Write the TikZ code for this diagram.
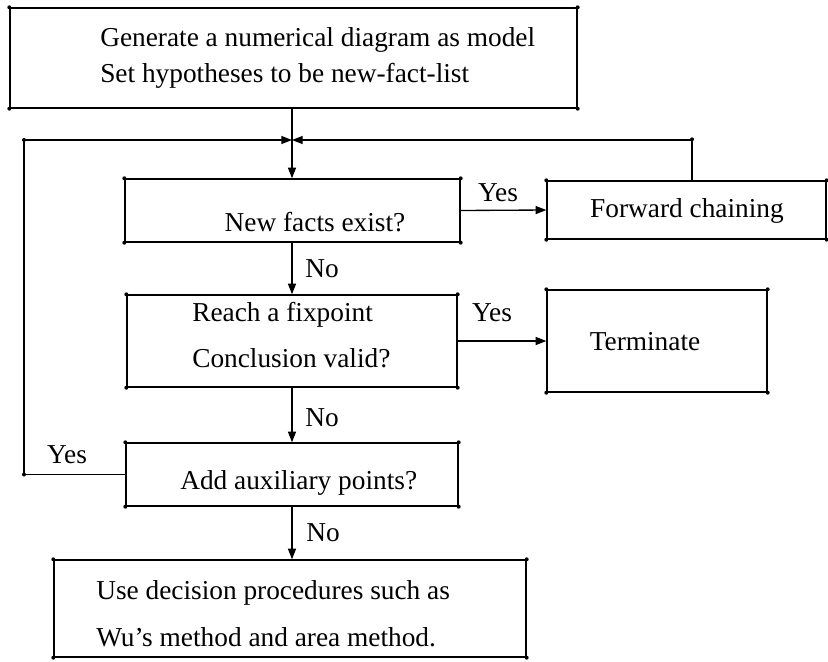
\documentclass[tikz,border=0pt]{standalone}
\usepackage{fontspec}
\setmainfont{Liberation Serif}
\usetikzlibrary{arrows.meta}
\usetikzlibrary{fit}

\tikzset{
  box/.style={draw,line width=1pt,inner sep=0pt},
  txt/.style={inner sep=0pt,font=\fontsize{20.5}{24}\selectfont},
  flow/.style={line width=1pt,-{Triangle[length=8pt,width=6pt]}},
  link/.style={line width=1pt},
}

\begin{document}
\begin{tikzpicture}[x=0.75pt,y=0.75pt,yscale=-1,xscale=1]
\useasboundingbox (0,0) rectangle (828,661);

%Shape: Rectangles
\node[box,fit={(10,8) (577,108)}] (gen) {};
\node[box,fit={(125,179) (460,242)}] (newf) {};
\node[box,fit={(547,181) (826,239)}] (fwd) {};
\node[box,fit={(127,295) (457,387)}] (fix) {};
\node[box,fit={(547,290) (767,392)}] (term) {};
\node[box,fit={(126,443) (458,506)}] (aux) {};
\node[box,fit={(54,560) (526,657)}] (wu) {};

%corner dots
\foreach \n in {gen,newf,fwd,fix,term,aux,wu}
  \foreach \a in {north west,north east,south west,south east}
    \fill (\n.\a) circle (2);

%loop points
\coordinate (join) at (292,140);
\coordinate (loopl) at (24,0);
\coordinate (loopr) at (692,0);

%Straight Lines
\draw[link] (gen.south -| join) -- (join);
\draw[flow] (join) -- (join |- newf.north);
\draw[flow] (newf.east) -- (fwd.west);
\draw[flow] (fwd.north -| loopr) |- (join);
\draw[flow] (newf.south -| join) -- (fix.north -| join);
\draw[flow] (fix.east) -- (fix.east -| term.west);
\draw[flow] (fix.south -| join) -- (aux.north -| join);
\draw[flow] (aux.west) -- (aux.west -| loopl) |- (join);
\draw[flow] (aux.south -| join) -- (wu.north -| join);
\fill (aux.west -| loopl) circle (2);
\fill (join -| loopl) circle (2);
\fill (fwd.north -| loopr) ++(0,-41) circle (2);

% Text Node
\node[txt,anchor=west] (gen1) at (100,40) {Generate a numerical diagram as model};
\node[txt,anchor=west] (gen2) at (100,76) {Set hypotheses to be new-fact-list};
\node[txt] (newft) at (315,222) {New facts exist?};
\node[txt] (fwdt) at (687,211) {Forward chaining};
\node[txt,anchor=west] (fix1) at (192,315) {Reach a fixpoint};
\node[txt,anchor=west] (fix2) at (192,358) {Conclusion valid?};
\node[txt] (termt) at (645,342) {Terminate};
\node[txt,anchor=west] (auxt) at (180,483) {Add auxiliary points?};
\node[txt,anchor=west] (wu1) at (96,593) {Use decision procedures such as};
\node[txt,anchor=west] (wu2) at (96,637) {Wu's method and area method.};

% Yes / No labels
\node[txt] (yes1) at (498,193) {Yes};
\node[txt] (yes2) at (492,313) {Yes};
\node[txt] (yes3) at (67,455) {Yes};
\node[txt] (no1) at (322,269) {No};
\node[txt] (no2) at (322,418) {No};
\node[txt] (no3) at (323,533) {No};

\end{tikzpicture}
\end{document}
